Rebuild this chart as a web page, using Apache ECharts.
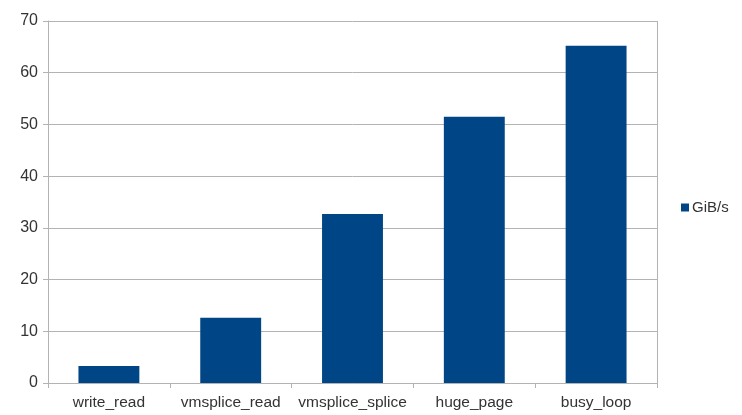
<!DOCTYPE html>
<html lang="en">
<head>
    <meta charset="UTF-8">
    <title>GiB/s</title>
    <style>
        * { margin: 0; padding: 0; }
        body { background: #fff; }
        #main { width: 742px; height: 415px; }
    </style>
    <script src="https://cdn.jsdelivr.net/npm/echarts@6/dist/echarts.min.js"></script>
</head>
<body>
<div id="main"></div>
<script>
    var categories = ['write_read', 'vmsplice_read', 'vmsplice_splice', 'huge_page', 'busy_loop'];
    var values = [3.3, 12.6, 32.7, 51.5, 65.2];
    var seriesName = 'GiB/s';

    var myChart = echarts.init(document.getElementById('main'));
    var font = 'Liberation Sans, Arial, sans-serif';

    var option = {
        animation: false,
        backgroundColor: '#fff',
        grid: { left: 48, right: 85, top: 21, bottom: 32 },
        legend: {
            data: [seriesName],
            orient: 'vertical',
            left: 676,
            top: 'middle',
            icon: 'rect',
            itemWidth: 8,
            itemHeight: 8,
            itemGap: 4,
            textStyle: { color: '#333', fontSize: 15, fontFamily: font, padding: [0, 0, 0, -2] }
        },
        xAxis: {
            type: 'category',
            data: categories,
            axisLine: { show: true, lineStyle: { color: '#b3b3b3' } },
            axisTick: { show: true, length: 5, lineStyle: { color: '#b3b3b3' } },
            axisLabel: { color: '#333', fontSize: 15.5, fontFamily: font, margin: 12, interval: 0 },
            splitLine: { show: false }
        },
        yAxis: {
            type: 'value',
            min: 0,
            max: 70,
            interval: 10,
            axisLine: { show: true, lineStyle: { color: '#b3b3b3' } },
            axisTick: { show: true, length: 5, inside: false, lineStyle: { color: '#b3b3b3' } },
            axisLabel: { color: '#333', fontSize: 16, fontFamily: font, margin: 10 },
            splitLine: { show: true, lineStyle: { color: '#b3b3b3' } }
        },
        series: [{
            name: seriesName,
            type: 'bar',
            barWidth: '50%',
            itemStyle: { color: '#004586' },
            data: values
        }],
        graphic: [{
            type: 'line',
            shape: { x1: 657.5, y1: 21, x2: 657.5, y2: 383 },
            style: { stroke: '#b3b3b3', lineWidth: 1 }
        }]
    };

    myChart.setOption(option);
</script>
</body>
</html>
